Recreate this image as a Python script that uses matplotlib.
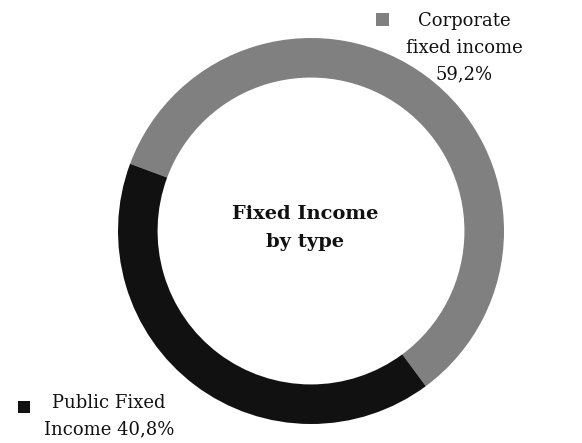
import matplotlib
matplotlib.use("Agg")
import matplotlib.pyplot as plt
from matplotlib.patches import Rectangle

categories = ["Corporate\nfixed income", "Public Fixed\nIncome"]
values = [59.2, 40.8]
value_labels = ["59,2%", "40,8%"]
colors = ["#808080", "#111111"]
center_title = "Fixed Income\nby type"

W, H = 582, 443
fig = plt.figure(figsize=(W / 100, H / 100), dpi=100)
fig.patch.set_facecolor("white")

cx, cy, R = 311, 231, 193
ax = fig.add_axes([(cx - R) / W, (H - cy - R) / H, 2 * R / W, 2 * R / H])
ax.pie(values, colors=colors, startangle=-53.5, counterclock=True, radius=1,
       wedgeprops=dict(width=0.205, linewidth=0))
ax.set_xlim(-1, 1)
ax.set_ylim(-1, 1)
ax.set_aspect("auto")
ax.axis("off")

font = "DejaVu Serif"

def px(x, y):
    return x / W, 1 - y / H

fig.text(*px(305, 228), center_title, ha="center", va="center", fontsize=14,
         fontweight="bold", family=font, linespacing=1.72, color="#111111")

# Corporate label
fig.text(*px(464, 48), f"{categories[0]}\n{value_labels[0]}", ha="center", va="center",
         fontsize=13, family=font, linespacing=1.63, color="#111111")
fig.patches.append(Rectangle(px(376, 26), 13 / W, 13 / H, transform=fig.transFigure,
                             facecolor=colors[0], edgecolor="none"))

# Public label
pub = categories[1].split("\n")
fig.text(*px(109, 416), f"{pub[0]}\n{pub[1]} {value_labels[1]}", ha="center", va="center",
         fontsize=13, family=font, linespacing=1.6, color="#111111")
fig.patches.append(Rectangle(px(18, 413), 12 / W, 12 / H, transform=fig.transFigure,
                             facecolor=colors[1], edgecolor="none"))

fig.savefig("out.png", dpi=100)
